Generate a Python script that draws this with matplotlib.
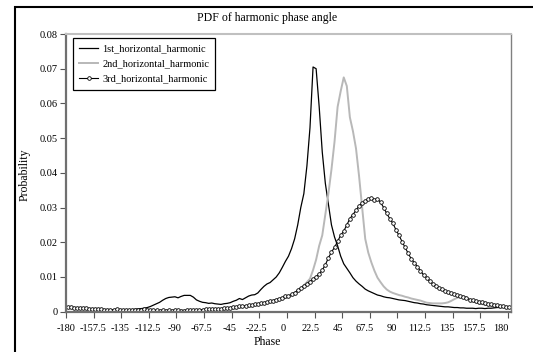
import matplotlib.pyplot as plt
import numpy as np
from matplotlib.patches import Rectangle

plt.rcParams['font.family'] = ['Liberation Serif', 'DejaVu Serif']

# phase bins, 2.5 degree steps from -180 to 180
phase = np.arange(-180, 180.1, 2.5)

first = [
    0.0010, 0.0010, 0.0009, 0.0009, 0.0008, 0.0008, 0.0007, 0.0007, 0.0006, 0.0006,
    0.0005, 0.0005, 0.0005, 0.0005, 0.0004, 0.0005, 0.0005, 0.0005, 0.0005, 0.0006,
    0.0006, 0.0006, 0.0007, 0.0008, 0.0009, 0.0010, 0.0012, 0.0015, 0.0019, 0.0023,
    0.0027, 0.0033, 0.0038, 0.0041, 0.0042, 0.0043, 0.0040, 0.0044, 0.0047, 0.0047,
    0.0047, 0.0042, 0.0034, 0.0030, 0.0027, 0.0026, 0.0024, 0.0025, 0.0023, 0.0022,
    0.0021, 0.0023, 0.0024, 0.0026, 0.0030, 0.0033, 0.0038, 0.0035, 0.0040, 0.0045,
    0.0048, 0.0049, 0.0054, 0.0064, 0.0073, 0.0080, 0.0084, 0.0092, 0.0100, 0.0112,
    0.0128, 0.0145, 0.0160, 0.0182, 0.0210, 0.0250, 0.0300, 0.0340, 0.0420, 0.0530,
    0.0705, 0.0700, 0.0590, 0.0460, 0.0370, 0.0310, 0.0250, 0.0215, 0.0190, 0.0160,
    0.0138, 0.0125, 0.0112, 0.0098, 0.0088, 0.0080, 0.0073, 0.0065, 0.0060, 0.0056,
    0.0052, 0.0048, 0.0046, 0.0043, 0.0041, 0.0040, 0.0038, 0.0036, 0.0034, 0.0033,
    0.0032, 0.0030, 0.0028, 0.0026, 0.0025, 0.0023, 0.0022, 0.0020, 0.0019, 0.0018,
    0.0017, 0.0016, 0.0015, 0.0014, 0.0014, 0.0013, 0.0012, 0.0012, 0.0011, 0.0011,
    0.0010, 0.0010, 0.0010, 0.0009, 0.0010, 0.0010, 0.0009, 0.0010, 0.0010, 0.0011,
    0.0012, 0.0012, 0.0013, 0.0013, 0.0014,
]

second = [
    0.0012, 0.0011, 0.0011, 0.0010, 0.0010, 0.0009, 0.0009, 0.0008, 0.0008, 0.0007,
    0.0007, 0.0006, 0.0006, 0.0005, 0.0005, 0.0005, 0.0005, 0.0005, 0.0005, 0.0005,
    0.0004, 0.0004, 0.0004, 0.0004, 0.0004, 0.0004, 0.0004, 0.0003, 0.0003, 0.0003,
    0.0003, 0.0003, 0.0003, 0.0003, 0.0003, 0.0003, 0.0003, 0.0003, 0.0003, 0.0004,
    0.0004, 0.0004, 0.0005, 0.0005, 0.0005, 0.0006, 0.0006, 0.0007, 0.0007, 0.0008,
    0.0008, 0.0009, 0.0010, 0.0011, 0.0012, 0.0013, 0.0014, 0.0015, 0.0016, 0.0017,
    0.0018, 0.0020, 0.0021, 0.0023, 0.0025, 0.0027, 0.0029, 0.0031, 0.0033, 0.0036,
    0.0038, 0.0040, 0.0042, 0.0046, 0.0051, 0.0058, 0.0067, 0.0076, 0.0085, 0.0095,
    0.0120, 0.0150, 0.0190, 0.0220, 0.0280, 0.0340, 0.0410, 0.0490, 0.0590, 0.0635,
    0.0675, 0.0650, 0.0560, 0.0520, 0.0470, 0.0390, 0.0300, 0.0210, 0.0170, 0.0142,
    0.0118, 0.0098, 0.0085, 0.0073, 0.0064, 0.0058, 0.0054, 0.0051, 0.0048, 0.0046,
    0.0043, 0.0041, 0.0038, 0.0036, 0.0034, 0.0032, 0.0029, 0.0026, 0.0025, 0.0024,
    0.0024, 0.0024, 0.0024, 0.0025, 0.0027, 0.0031, 0.0036, 0.0040, 0.0043, 0.0044,
    0.0041, 0.0035, 0.0030, 0.0027, 0.0024, 0.0022, 0.0020, 0.0019, 0.0018, 0.0017,
    0.0016, 0.0015, 0.0014, 0.0013, 0.0012,
]

third = [
    0.0013, 0.0013, 0.0012, 0.0012, 0.0011, 0.0011, 0.0010, 0.0009, 0.0009, 0.0008,
    0.0009, 0.0007, 0.0006, 0.0006, 0.0006, 0.0006, 0.0007, 0.0006, 0.0006, 0.0006,
    0.0005, 0.0006, 0.0006, 0.0005, 0.0006, 0.0007, 0.0006, 0.0005, 0.0004, 0.0004,
    0.0003, 0.0004, 0.0003, 0.0004, 0.0003, 0.0004, 0.0004, 0.0003, 0.0003, 0.0004,
    0.0004, 0.0005, 0.0005, 0.0006, 0.0006, 0.0007, 0.0007, 0.0008, 0.0008, 0.0009,
    0.0009, 0.0010, 0.0011, 0.0012, 0.0013, 0.0014, 0.0015, 0.0016, 0.0017, 0.0018,
    0.0019, 0.0021, 0.0022, 0.0024, 0.0026, 0.0028, 0.0030, 0.0032, 0.0035, 0.0037,
    0.0040, 0.0044, 0.0046, 0.0050, 0.0055, 0.0062, 0.0068, 0.0073, 0.0080, 0.0087,
    0.0094, 0.0101, 0.0108, 0.0120, 0.0135, 0.0155, 0.0172, 0.0185, 0.0203, 0.0220,
    0.0232, 0.0250, 0.0268, 0.0280, 0.0292, 0.0305, 0.0313, 0.0318, 0.0325, 0.0328,
    0.0322, 0.0325, 0.0315, 0.0300, 0.0283, 0.0268, 0.0255, 0.0236, 0.0220, 0.0202,
    0.0185, 0.0168, 0.0152, 0.0141, 0.0130, 0.0118, 0.0106, 0.0098, 0.0088, 0.0080,
    0.0074, 0.0069, 0.0064, 0.0060, 0.0057, 0.0054, 0.0051, 0.0048, 0.0045, 0.0042,
    0.0039, 0.0035, 0.0033, 0.0031, 0.0029, 0.0027, 0.0025, 0.0023, 0.0021, 0.0020,
    0.0018, 0.0017, 0.0015, 0.0014, 0.0013,
]

x_labels = ['-180', '-157.5', '-135', '-112.5', '-90', '-67.5', '-45', '-22.5', '0',
            '22.5', '45', '67.5', '90', '112.5', '135', '157.5', '180']
y_ticks = [0, 0.01, 0.02, 0.03, 0.04, 0.05, 0.06, 0.07, 0.08]
y_labels = ['0', '0.01', '0.02', '0.03', '0.04', '0.05', '0.06', '0.07', '0.08']

W, H = 533, 352
fig = plt.figure(figsize=(W / 100, H / 100), dpi=100)
ax = fig.add_axes([66 / W, 1 - 311.7 / H, 445 / W, (311.7 - 34) / H])

ax.plot(phase, first, color='black', lw=0.9, label='1st_horizontal_harmonic')
ax.plot(phase, second, color='#b8b8b8', lw=1.4, label='2nd_horizontal_harmonic')
ax.plot(phase, third, color='black', lw=0.8, marker='o', ms=2.6, mfc='white',
        mec='black', mew=0.6, label='3rd_horizontal_harmonic')

ax.set_xlim(-181.25, 181.25)
ax.set_ylim(0, 0.08)

# tick marks sit on category boundaries, labels slightly offset (Excel style)
ax.set_xticks(np.arange(-181.25, 180, 22.5))
ax.set_xticklabels([])
ax.set_xticks(np.linspace(-181.2, 173, 17), minor=True)
ax.set_xticklabels(x_labels, minor=True)
ax.tick_params(axis='x', which='major', direction='out', length=4, width=0.8, color='#555555')
ax.tick_params(axis='x', which='minor', length=0, pad=9, labelsize=7.5)

ax.set_yticks(y_ticks)
ax.set_yticklabels(y_labels)
ax.tick_params(axis='y', direction='out', length=4, width=0.8, color='#555555',
               pad=2, labelsize=7.5)

ax.spines['left'].set_color('#707070')
ax.spines['left'].set_linewidth(1.6)
ax.spines['bottom'].set_color('#707070')
ax.spines['bottom'].set_linewidth(1.6)
ax.spines['top'].set_color('#c0c0c0')
ax.spines['top'].set_linewidth(1.5)
ax.spines['right'].set_color('#808080')
ax.spines['right'].set_linewidth(1.0)

leg = ax.legend(loc='upper left', bbox_to_anchor=(73 / W, 1 - 38 / H),
                bbox_transform=fig.transFigure, fontsize=7.5, frameon=True,
                fancybox=False, edgecolor='black', framealpha=1, borderaxespad=0,
                handlelength=1.8, handletextpad=0.4, labelspacing=0.55, borderpad=0.6)
leg.get_frame().set_linewidth(0.9)

fig.text(267 / W, 1 - 18 / H, 'PDF of harmonic phase angle', ha='center', va='center',
         fontsize=8.5)
fig.text(267 / W, 1 - 342 / H, 'Phase', ha='center', va='center', fontsize=8.5)
fig.text(25 / W, 1 - 175 / H, 'Probability', ha='center', va='center', rotation=90,
         fontsize=8.5)

# outer chart frame
fig.patches.append(Rectangle((15 / W, -0.05), 1.0, 1.05 - 7 / H, transform=fig.transFigure,
                             fill=False, edgecolor='black', lw=1.5))

fig.savefig('out.png', dpi=100)
